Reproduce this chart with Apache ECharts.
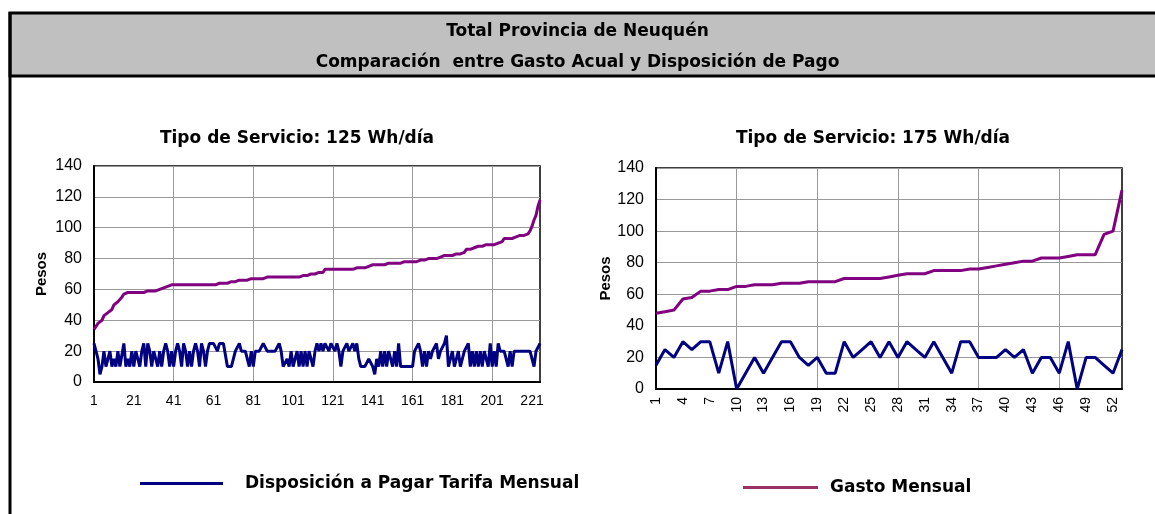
<!DOCTYPE html>
<html>
<head>
<meta charset="utf-8">
<script src="https://cdn.jsdelivr.net/npm/echarts@6/dist/echarts.min.js"></script>
<style>
html, body { margin: 0; padding: 0; background: #fff; }
#chart { width: 1155px; height: 514px; }
</style>
</head>
<body>
<div id="chart"></div>
<script>
// Tipo de Servicio 125 Wh/dia
const leftDisposicion = [
    25, 20, 15, 5, 10, 20, 10, 10, 20, 10, 15, 10, 20, 10, 10,
    25, 10, 15, 10, 20, 10, 20, 15, 10, 20, 25, 10, 25, 20, 10,
    20, 15, 10, 20, 10, 20, 25, 20, 10, 20, 10, 20, 25, 20, 10,
    25, 20, 10, 20, 10, 20, 25, 20, 10, 25, 20, 10, 20, 25, 25,
    25, 25, 20, 25, 25, 25, 25, 10, 10, 10, 15, 20, 20, 25, 20,
    20, 20, 15, 10, 20, 10, 20, 20, 20, 20, 25, 25, 20, 20, 20,
    20, 20, 20, 25, 20, 10, 10, 15, 10, 20, 10, 15, 20, 10, 20,
    10, 20, 10, 20, 15, 10, 20, 25, 20, 25, 20, 25, 25, 20, 25,
    25, 20, 25, 20, 10, 20, 20, 25, 20, 20, 25, 20, 25, 15, 10,
    10, 10, 10, 15, 15, 10, 5, 15, 10, 20, 10, 20, 10, 20, 20,
    10, 20, 10, 25, 10, 10, 10, 10, 10, 10, 10, 20, 20, 25, 20,
    10, 20, 10, 20, 15, 20, 20, 25, 15, 20, 20, 25, 30, 10, 10,
    20, 10, 10, 20, 10, 15, 20, 20, 25, 10, 20, 10, 20, 10, 20,
    10, 20, 20, 10, 25, 10, 20, 10, 25, 20, 20, 20, 15, 10, 20,
    10, 20, 20, 20, 20, 20, 20, 20, 20, 20, 20, 10, 20, 20, 25
];
const leftGasto = [
    34, 36, 38, 39, 40, 43, 44, 45, 45, 47, 50, 51, 52, 53, 55,
    57, 58, 58, 58, 58, 58, 58, 58, 58, 58, 58, 58, 59, 59, 59,
    59, 59, 60, 60, 60, 61, 61, 62, 62, 63, 63, 63, 63, 63, 63,
    63, 63, 63, 63, 63, 63, 63, 63, 63, 63, 63, 63, 63, 63, 63,
    63, 63, 64, 64, 64, 64, 64, 64, 64, 65, 65, 65, 66, 66, 66,
    66, 66, 66, 66, 67, 67, 67, 67, 67, 67, 67, 68, 68, 68, 68,
    68, 68, 68, 68, 68, 68, 68, 68, 68, 68, 68, 68, 68, 68, 68,
    69, 69, 69, 70, 70, 70, 70, 70, 71, 71, 71, 73, 73, 73, 73,
    73, 73, 73, 73, 73, 73, 73, 73, 73, 73, 73, 74, 74, 74, 74,
    74, 74, 74, 75, 75, 76, 76, 76, 76, 76, 76, 76, 77, 77, 77,
    77, 77, 77, 77, 77, 78, 78, 78, 78, 78, 78, 78, 78, 79, 79,
    79, 79, 79, 80, 80, 80, 80, 80, 81, 81, 82, 82, 82, 82, 82,
    82, 82, 83, 83, 83, 84, 84, 86, 86, 86, 87, 87, 88, 88, 88,
    88, 88, 89, 89, 89, 89, 89, 89, 90, 90, 91, 93, 93, 93, 93,
    93, 93, 94, 94, 95, 95, 95, 95, 96, 98, 101, 105, 108, 114, 118
];

// Tipo de Servicio 175 Wh/dia
const rightDisposicion = [
    15, 25, 20, 30, 25, 30, 30, 10, 30, 0,
    10, 20, 10, 20, 30, 30, 20, 15, 20, 10,
    10, 30, 20, 25, 30, 20, 30, 20, 30, 25,
    20, 30, 20, 10, 30, 30, 20, 20, 20, 25,
    20, 25, 10, 20, 20, 10, 30, 0, 20, 20,
    15, 10, 25
];
const rightGasto = [
    48, 49, 50, 57, 58, 62, 62, 63, 63, 65,
    65, 66, 66, 66, 67, 67, 67, 68, 68, 68,
    68, 70, 70, 70, 70, 70, 71, 72, 73, 73,
    73, 75, 75, 75, 75, 76, 76, 77, 78, 79,
    80, 81, 81, 83, 83, 83, 84, 85, 85, 85,
    98, 100, 126
];

const leftCategories = leftGasto.map((v, i) => String(i + 1));
const rightCategories = rightGasto.map((v, i) => String(i + 1));

const nameDisp = 'Disposición a Pagar Tarifa Mensual';
const nameGasto = 'Gasto Mensual';
const blue = '#000080';
const purple = '#800080';
const font = 'Liberation Sans, Arial, sans-serif';
const boldFont = 'DejaVu Sans, Liberation Sans, sans-serif';

function xAxisFor(gridIndex, cats, labelInterval, splitInterval, rotate) {
    return {
        type: 'category',
        gridIndex: gridIndex,
        data: cats,
        boundaryGap: false,
        axisLine: { lineStyle: { color: '#000', width: 2 } },
        axisTick: { show: false },
        axisLabel: {
            interval: labelInterval,
            rotate: rotate,
            color: '#000',
            fontFamily: font,
            fontSize: 14,
            margin: rotate ? 8 : 12
        },
        splitLine: {
            show: true,
            interval: splitInterval,
            lineStyle: { color: '#999', width: 1 }
        }
    };
}

function yAxisFor(gridIndex, gap) {
    return {
        type: 'value',
        gridIndex: gridIndex,
        min: 0,
        max: 140,
        interval: 20,
        name: 'Pesos',
        nameLocation: 'middle',
        nameRotate: 90,
        nameGap: gap,
        nameTextStyle: { color: '#000', fontFamily: font, fontSize: 15, fontWeight: 'bold' },
        axisLine: { show: true, lineStyle: { color: '#000', width: 2 } },
        axisTick: { show: false },
        axisLabel: { color: '#000', fontFamily: font, fontSize: 16, margin: 12 },
        splitLine: { show: true, lineStyle: { color: '#999', width: 1 } }
    };
}

function lineSeries(name, data, color, idx) {
    return {
        name: name,
        type: 'line',
        xAxisIndex: idx,
        yAxisIndex: idx,
        data: data,
        showSymbol: false,
        symbol: 'none',
        animation: false,
        lineStyle: { color: color, width: 3 },
        itemStyle: { color: color }
    };
}

const chart = echarts.init(document.getElementById('chart'));

const option = {
    backgroundColor: '#fff',
    animation: false,
    graphic: [
        {
            type: 'rect',
            shape: { x: 10, y: 13, width: 1160, height: 63 },
            style: { fill: '#c0c0c0', stroke: '#000', lineWidth: 3 },
            z: -10
        },
        {
            type: 'line',
            shape: { x1: 10, y1: 12, x2: 10, y2: 520 },
            style: { stroke: '#000', lineWidth: 3 },
            z: -10
        }
    ],
    title: [
        {
            text: 'Total Provincia de Neuquén',
            left: 'center',
            top: 18,
            textStyle: { fontFamily: boldFont, fontSize: 17, fontWeight: 'bold', color: '#000' }
        },
        {
            text: 'Comparación  entre Gasto Acual y Disposición de Pago',
            left: 'center',
            top: 49,
            textStyle: { fontFamily: boldFont, fontSize: 17, fontWeight: 'bold', color: '#000' }
        },
        {
            text: 'Tipo de Servicio: 125 Wh/día',
            left: 292,
            textAlign: 'center',
            top: 125,
            textStyle: { fontFamily: boldFont, fontSize: 17, fontWeight: 'bold', color: '#000' }
        },
        {
            text: 'Tipo de Servicio: 175 Wh/día',
            left: 868,
            textAlign: 'center',
            top: 125,
            textStyle: { fontFamily: boldFont, fontSize: 17, fontWeight: 'bold', color: '#000' }
        }
    ],
    legend: [
        {
            left: 135,
            top: 470,
            data: [{ name: nameDisp, itemStyle: { color: blue } }],
            icon: 'rect',
            itemWidth: 83,
            itemHeight: 3,
            selectedMode: false,
            textStyle: {
                fontFamily: boldFont, fontSize: 17, fontWeight: 'bold', color: '#000',
                padding: [4, 0, 0, 17]
            }
        },
        {
            left: 738,
            top: 474,
            data: [{ name: nameGasto, itemStyle: { color: '#993366' } }],
            icon: 'rect',
            itemWidth: 75,
            itemHeight: 3,
            selectedMode: false,
            textStyle: {
                fontFamily: boldFont, fontSize: 17, fontWeight: 'bold', color: '#000',
                padding: [-2, 0, 0, 7]
            }
        }
    ],
    grid: [
        { left: 94, top: 166, width: 446, height: 216, show: true, borderColor: '#000', borderWidth: 1.5 },
        { left: 656, top: 168, width: 466, height: 221, show: true, borderColor: '#000', borderWidth: 1.5 }
    ],
    xAxis: [
        xAxisFor(0, leftCategories, 19, 39, 0),
        xAxisFor(1, rightCategories, 2, 8, 90)
    ],
    yAxis: [
        yAxisFor(0, 45),
        yAxisFor(1, 41)
    ],
    series: [
        lineSeries(nameGasto, leftGasto, purple, 0),
        lineSeries(nameDisp, leftDisposicion, blue, 0),
        lineSeries(nameGasto, rightGasto, purple, 1),
        lineSeries(nameDisp, rightDisposicion, blue, 1)
    ]
};

chart.setOption(option);
</script>
</body>
</html>
